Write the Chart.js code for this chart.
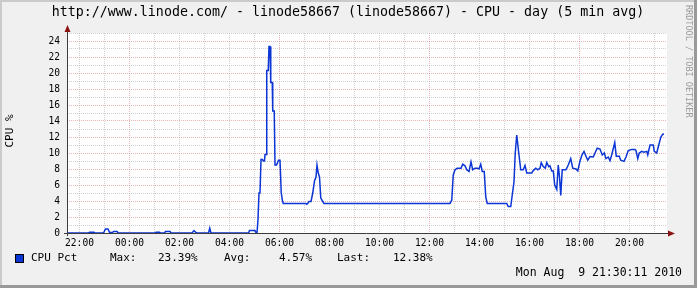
<!DOCTYPE html>
<html>
<head>
<meta charset="utf-8">
<script src="https://cdn.jsdelivr.net/npm/chart.js@4.4.1/dist/chart.umd.min.js"></script>
<style>
html,body{margin:0;padding:0;background:#F0F0F0;}
canvas{display:block;}
</style>
</head>
<body>
<canvas id="c" width="697" height="288"></canvas>
<script>
// ---- data (hours relative to midnight of Aug 9; negative = Aug 8) ----
const titleText = "http://www.linode.com/ - linode58667 (linode58667) - CPU - day (5 min avg)";
const yAxisTitle = "CPU %";
const seriesName = "CPU Pct";
const statLabels = ["Max:", "Avg:", "Last:"];
const statValues = ["23.39%", "4.57%", "12.38%"];
const stampText = "Mon Aug  9 21:30:11 2010";
const watermark = "RRDTOOL / TOBI OETIKER";

const xMin = -2.5, xMax = 21.5;
const yMin = 0, yMax = 25;
const hourTicks = [-2,-1,0,1,2,3,4,5,6,7,8,9,10,11,12,13,14,15,16,17,18,19,20,21];

const times = [
 -2.5,-1.64,-1.6,-1.42,-1.38,-1.04,-0.96,-0.86,-0.8,-0.7,-0.62,-0.5,-0.44,
 1.02,1.06,1.2,1.24,1.4,1.44,1.62,1.66,
 2.5,2.58,2.64,2.7,
 3.16,3.21,3.26,
 4.76,4.8,5.02,5.06,5.1,5.14,5.18,5.22,5.26,5.32,5.35,5.40,5.42,5.47,5.49,5.55,5.58,5.62,5.65,5.71,5.73,5.79,5.82,5.88,5.91,5.96,6.02,6.07,6.12,6.15,
 7.05,7.09,7.13,7.18,7.26,7.33,7.4,7.46,7.5,7.55,7.6,7.65,7.72,7.78,
 12.82,12.89,12.95,13.02,13.11,13.26,13.33,13.42,13.49,13.58,13.66,13.73,13.82,13.92,13.98,14.05,14.11,14.19,14.25,14.31,
 15.09,15.15,15.25,15.31,15.38,15.43,15.49,15.57,15.65,15.75,15.82,15.89,16.09,16.15,16.25,16.33,16.42,16.47,16.55,16.63,16.69,16.77,16.82,16.89,16.95,
 17.01,17.09,17.15,17.2,17.25,17.31,17.45,17.49,17.55,17.65,17.73,17.86,17.93,
 18.02,18.1,18.18,18.26,18.33,18.42,18.55,18.62,18.71,18.82,18.91,18.99,19.06,19.15,19.22,19.3,19.41,19.47,19.59,19.65,19.78,19.86,19.95,
 20.09,20.22,20.26,20.33,20.39,20.49,20.58,20.69,20.73,20.82,20.95,20.99,21.09,21.17,21.25,21.33,21.38
];
const cpuPct = [
 0,0,0.1,0.1,0,0,0.5,0.5,0.1,0.05,0.2,0.2,0,
 0,0.1,0.1,0,0,0.2,0.2,0,
 0,0.3,0.1,0,
 0,0.6,0,
 0,0.3,0.3,0.05,0,1.7,5.0,5.0,9.2,9.2,9.0,9.0,9.8,9.8,20.3,20.3,23.3,23.3,18.8,18.8,15.25,15.25,8.5,8.5,8.7,9.1,9.1,5.0,4.0,3.7,
 3.7,3.6,3.7,3.95,3.95,5.0,6.5,7.0,8.5,7.5,7.0,4.4,4.0,3.7,
 3.7,4.1,7.25,7.9,8.1,8.1,8.6,8.4,7.9,7.7,8.9,7.9,8.1,8.1,8.0,8.6,7.7,7.7,4.5,3.7,
 3.7,3.3,3.3,4.75,6.4,10.0,12.25,10.0,7.9,7.9,8.45,7.5,7.5,7.8,8.1,7.9,8.1,8.8,8.3,8.1,8.8,8.3,8.4,7.75,7.75,
 6.0,5.45,8.5,7.0,4.7,7.9,7.9,8.1,8.5,9.3,8.1,8.0,7.75,
 9.0,9.75,10.2,9.6,9.1,9.55,9.5,10.0,10.6,10.5,9.75,10.0,9.3,9.5,9.05,9.9,11.3,9.6,9.6,9.1,8.95,9.5,10.3,
 10.45,10.45,10.3,9.3,10.0,10.2,10.1,10.2,9.75,11.0,11.0,10.2,10.0,11.0,11.95,12.35,12.38
];

// ---- styling ----
const MONO = '"DejaVu Sans Mono", "Liberation Mono", monospace';
const LINE_COLOR = '#0b35d4';
const MINOR = 'rgba(175,175,175,0.6)';
const MAJOR = 'rgba(220,120,120,0.55)';
const AXIS = '#3c3c3c';
const ARROW = '#8b1212';

function hourLabel(v){
  if (v % 2 !== 0) return '';
  const h = ((v % 24) + 24) % 24;
  return (h < 10 ? '0' : '') + h + ':00';
}

const decor = {
  id: 'decor',
  beforeDraw(chart){
    const ctx = chart.ctx, W = chart.width, H = chart.height, a = chart.chartArea;
    ctx.save();
    ctx.fillStyle = '#F0F0F0';
    ctx.fillRect(0,0,W,H);
    ctx.fillStyle = '#CBCBCB';
    ctx.fillRect(0,0,W,2);
    ctx.fillRect(0,0,2,H);
    ctx.fillStyle = '#999999';
    ctx.fillRect(0,H-3,W,3);
    ctx.fillRect(W-3,0,3,H);
    ctx.fillStyle = '#FFFFFF';
    ctx.fillRect(a.left, a.top, a.right - a.left, a.bottom - a.top);
    ctx.restore();
  },
  afterDraw(chart){
    const ctx = chart.ctx, a = chart.chartArea;
    ctx.save();
    ctx.strokeStyle = AXIS;
    ctx.lineWidth = 1;
    ctx.beginPath();
    ctx.moveTo(a.left - 3, a.bottom + 0.5);
    ctx.lineTo(a.right + 2, a.bottom + 0.5);
    ctx.moveTo(a.left + 0.5, a.bottom + 3);
    ctx.lineTo(a.left + 0.5, a.top - 2);
    ctx.stroke();
    ctx.fillStyle = ARROW;
    ctx.beginPath();
    ctx.moveTo(a.right + 1, a.bottom - 2.5);
    ctx.lineTo(a.right + 8, a.bottom + 0.5);
    ctx.lineTo(a.right + 1, a.bottom + 3.5);
    ctx.closePath();
    ctx.fill();
    ctx.beginPath();
    ctx.moveTo(a.left - 2.5, a.top - 1);
    ctx.lineTo(a.left + 0.5, a.top - 8);
    ctx.lineTo(a.left + 3.5, a.top - 1);
    ctx.closePath();
    ctx.fill();

    ctx.fillStyle = '#000';
    ctx.font = '13.3px ' + MONO;
    ctx.textAlign = 'center';
    ctx.textBaseline = 'middle';
    ctx.fillText(titleText, 348, 13);

    ctx.save();
    ctx.translate(10, 131);
    ctx.rotate(-Math.PI/2);
    ctx.font = '11px ' + MONO;
    ctx.fillText(yAxisTitle, 0, 0);
    ctx.restore();

    ctx.save();
    ctx.translate(688, 5);
    ctx.rotate(Math.PI/2);
    ctx.font = '8.5px ' + MONO;
    ctx.fillStyle = '#9a9a9a';
    ctx.textAlign = 'left';
    ctx.fillText(watermark, 0, 0);
    ctx.restore();

    ctx.fillStyle = LINE_COLOR;
    ctx.fillRect(15, 254, 9, 9);
    ctx.strokeStyle = '#000';
    ctx.strokeRect(15.5, 254.5, 8, 8);
    ctx.fillStyle = '#000';
    ctx.font = '11px ' + MONO;
    ctx.textAlign = 'left';
    const ly = 258.5;
    ctx.fillText(seriesName, 31, ly);
    ctx.fillText(statLabels[0], 110, ly);
    ctx.fillText(statValues[0], 158, ly);
    ctx.fillText(statLabels[1], 224, ly);
    ctx.fillText(statValues[1], 279, ly);
    ctx.fillText(statLabels[2], 337, ly);
    ctx.fillText(statValues[2], 393, ly);
    ctx.textAlign = 'right';
    ctx.font = '11.5px ' + MONO;
    ctx.fillText(stampText, 682, 273);
    ctx.restore();
  }
};

new Chart(document.getElementById('c'), {
  type: 'line',
  data: {
    datasets: [{
      label: seriesName,
      data: times.map((t,i) => ({x: t, y: cpuPct[i]})),
      borderColor: LINE_COLOR,
      borderWidth: 1.5,
      pointRadius: 0,
      tension: 0,
      fill: false
    }]
  },
  options: {
    responsive: false,
    animation: false,
    devicePixelRatio: 1,
    layout: { padding: { top: 33, right: 30, left: 0, bottom: 0 } },
    plugins: { legend: { display: false }, title: { display: false }, tooltip: { enabled: false } },
    scales: {
      x: {
        type: 'linear',
        min: xMin, max: xMax,
        afterBuildTicks: (s) => { s.ticks = hourTicks.map(v => ({value: v})); },
        afterFit: (s) => { s.height = 55; },
        ticks: {
          autoSkip: false, maxRotation: 0, minRotation: 0,
          padding: 5,
          font: { family: MONO, size: 9.6 },
          color: '#000',
          callback: (v) => hourLabel(v)
        },
        grid: {
          drawTicks: false,
          color: (c) => (c.tick && c.tick.value % 6 === 0) ? MAJOR : MINOR,
          lineWidth: 1
        },
        border: { display: false, dash: [1,1] }
      },
      y: {
        type: 'linear',
        min: yMin, max: yMax,
        afterFit: (s) => { s.width = 67; },
        ticks: {
          stepSize: 1, autoSkip: false,
          padding: 7,
          font: { family: MONO, size: 9.6 },
          color: '#000',
          callback: (v) => (v % 2 === 0 && v < 25) ? String(v) : ''
        },
        grid: {
          drawTicks: false,
          color: (c) => (c.tick && c.tick.value % 2 === 0) ? MAJOR : MINOR,
          lineWidth: 1
        },
        border: { display: false, dash: [1,1] }
      }
    }
  },
  plugins: [decor]
});
</script>
</body>
</html>
